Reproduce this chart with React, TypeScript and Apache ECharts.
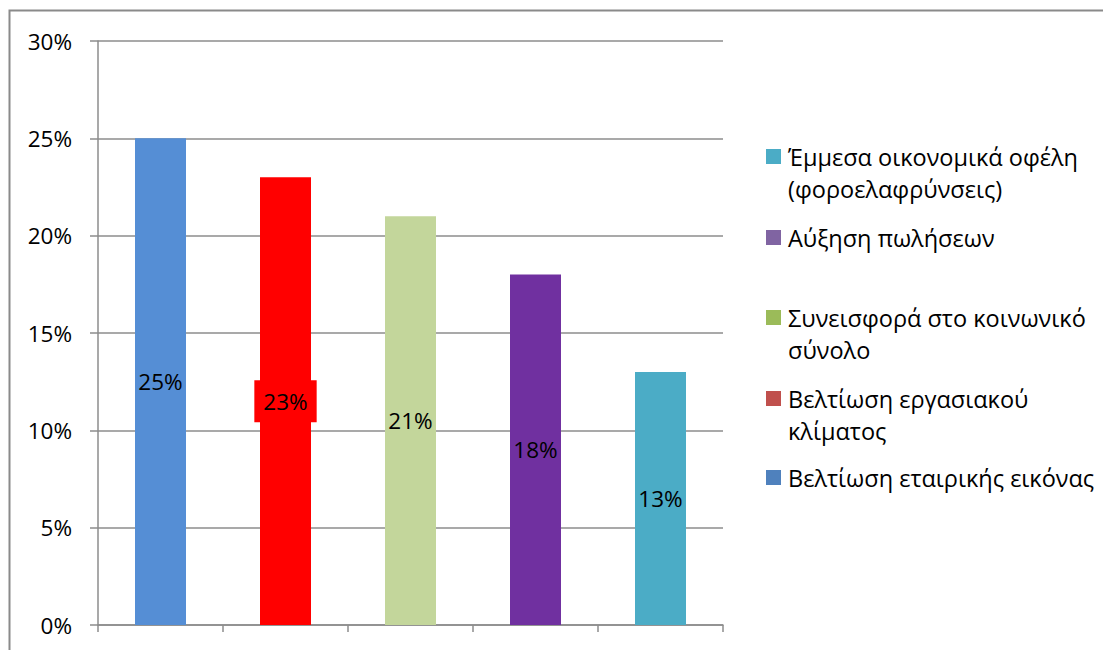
import React, { useEffect, useRef } from "react";
import * as echarts from "echarts";

const categories = [
  "Βελτίωση εταιρικής εικόνας",
  "Βελτίωση εργασιακού κλίματος",
  "Συνεισφορά στο κοινωνικό σύνολο",
  "Αύξηση πωλήσεων",
  "Έμμεσα οικονομικά οφέλη (φοροελαφρύνσεις)",
];
const values = [25, 23, 21, 18, 13];
const barColors = ["#558ED5", "#FF0000", "#C3D69B", "#7030A0", "#4BACC6"];

const legendLines = [
  ["Έμμεσα οικονομικά οφέλη", "(φοροελαφρύνσεις)"],
  ["Αύξηση πωλήσεων"],
  ["Συνεισφορά στο κοινωνικό", "σύνολο"],
  ["Βελτίωση εργασιακού", "κλίματος"],
  ["Βελτίωση εταιρικής εικόνας"],
];
const legendColors = ["#4BACC6", "#8064A2", "#9BBB59", "#C0504D", "#4F81BD"];
const yTicks = [0, 5, 10, 15, 20, 25, 30];

const FONT = "'Open Sans', sans-serif";

export default function App() {
  const ref = useRef<HTMLDivElement>(null);
  useEffect(() => {
    if (!ref.current) return;
    const chart = echarts.init(ref.current, null, { renderer: "svg" });

    const legendTops = [149, 230, 310, 391, 470];
    const legendGraphics: any[] = [];
    legendLines.forEach((lines, i) => {
      const top = legendTops[i];
      legendGraphics.push({
        type: "rect",
        shape: { x: 766, y: top, width: 15, height: 15 },
        style: { fill: legendColors[i] },
      });
      lines.forEach((ln, j) => {
        legendGraphics.push({
          type: "text",
          x: 788,
          y: top + 7.5 + j * 32.5,
          style: {
            text: ln,
            fill: "#000",
            font: `23.5px ${FONT}`,
            textVerticalAlign: "middle",
            textAlign: "left",
          },
        });
      });
    });

    chart.setOption({
      animation: false,
      textStyle: { fontFamily: FONT },
      grid: { left: 98, top: 41, right: 380, bottom: 25, containLabel: false },
      xAxis: {
        type: "category",
        data: categories,
        boundaryGap: true,
        axisLine: { show: true, lineStyle: { color: "#8c8c8c", width: 1.5 } },
        axisTick: { show: true, inside: false, length: 7, interval: 0, lineStyle: { color: "#8c8c8c", width: 1.5 } },
        axisLabel: { show: false },
        splitLine: { show: false },
      },
      yAxis: {
        type: "value",
        min: yTicks[0],
        max: yTicks[yTicks.length - 1],
        interval: 5,
        axisLine: { show: true, lineStyle: { color: "#8c8c8c", width: 1.5 } },
        axisTick: { show: true, inside: false, length: 8, lineStyle: { color: "#8c8c8c", width: 1.5 } },
        axisLabel: {
          margin: 26,
          formatter: "{value}%",
          color: "#000",
          fontSize: 22.5,
          fontFamily: FONT,
        },
        splitLine: { show: true, lineStyle: { color: "#8c8c8c", width: 1.5 } },
      },
      series: [
        {
          type: "bar",
          barWidth: 51,
          data: values.map((v, i) => ({
            value: v,
            itemStyle: { color: barColors[i] },
            label:
              i === 1
                ? { backgroundColor: "#FF0000", padding: [10, 9, 9, 9] }
                : {},
          })),
          label: {
            show: true,
            position: "inside",
            formatter: "{c}%",
            color: "#000",
            fontSize: 22.5,
            fontFamily: FONT,
          },
        },
      ],
      graphic: [
        {
          type: "rect",
          shape: { x: 9.5, y: 10.5, width: 2000, height: 2000 },
          style: { fill: "none", stroke: "#8a8a8a", lineWidth: 2 },
          silent: true,
        },
        ...legendGraphics,
      ],
    });
    return () => chart.dispose();
  }, []);
  return (
    <div
      ref={ref}
      style={{ position: "absolute", left: 0, top: 0, width: 1103, height: 650, background: "#fff" }}
    />
  );
}
